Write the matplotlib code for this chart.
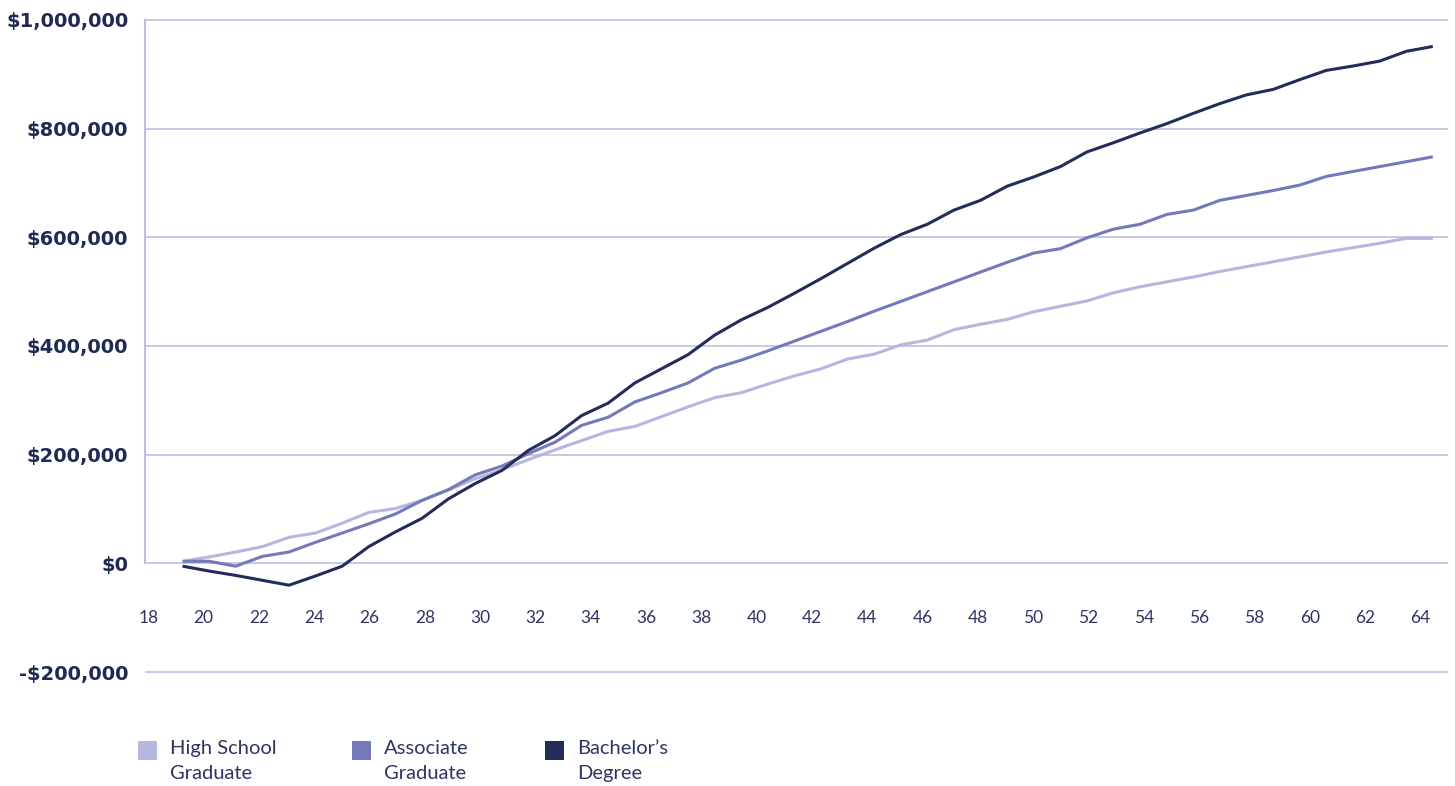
import numpy as np
import matplotlib
matplotlib.use("Agg")
import matplotlib.pyplot as plt
from matplotlib.patches import Rectangle
from matplotlib.ticker import FuncFormatter

# Cumulative net earnings by age (USD), sampled 48 times from age ~19.2 to ~64.5
age_start, age_end, n_points = 19.24, 64.45, 48

high_school = [
    4000, 12000, 21000, 31000, 48000, 56000, 74000, 94000, 101000, 116000,
    135000, 156000, 172000, 191000, 209000, 226000, 243000, 252000, 270000, 288000,
    305000, 314000, 330000, 345000, 358000, 376000, 385000, 402000, 411000, 430000,
    440000, 449000, 463000, 473000, 483000, 498000, 509000, 518000, 527000, 537000,
    546000, 555000, 564000, 573000, 581000, 589000, 598000, 598000,
]
associate = [
    4000, 4000, -5000, 13000, 21000, 39000, 56000, 73000, 91000, 116000,
    136000, 163000, 179000, 202000, 223000, 254000, 269000, 297000, 314000, 332000,
    359000, 374000, 391000, 409000, 427000, 445000, 464000, 482000, 500000, 518000,
    536000, 554000, 571000, 579000, 599000, 615000, 624000, 642000, 650000, 668000,
    677000, 686000, 696000, 712000, 721000, 730000, 739000, 748000,
]
bachelors = [
    -5000, -14000, -22000, -31000, -40000, -23000, -5000, 31000, 58000, 83000,
    119000, 147000, 171000, 208000, 235000, 272000, 295000, 332000, 358000, 384000,
    420000, 448000, 471000, 497000, 524000, 552000, 580000, 605000, 624000, 650000,
    668000, 694000, 711000, 730000, 757000, 774000, 792000, 809000, 828000, 846000,
    862000, 872000, 890000, 907000, 915000, 924000, 942000, 951000,
]

series_names = ["High School\nGraduate", "Associate\nGraduate", "Bachelor\u2019s\nDegree"]
series_colors = ["#b6b7de", "#7479b9", "#222d59"]
age_ticks = list(range(18, 65, 2))
y_ticks = [-200000, 0, 200000, 400000, 600000, 800000, 1000000]

grid_color = "#bdbee3"
label_color = "#1f2a55"
tick_color = "#2d3562"

W, H = 1455, 786
fig = plt.figure(figsize=(W / 100, H / 100), dpi=100)
ax = fig.add_axes([145 / W, (H - 673) / H, (1448 - 145) / W, (673 - 19) / H])

ages = np.linspace(age_start, age_end, n_points)
for vals, color in zip([high_school, associate, bachelors], series_colors):
    ax.plot(ages, vals, color=color, lw=2.2, solid_joinstyle="round",
            solid_capstyle="butt", zorder=3)

ax.set_xlim(17.88, 65.0)
ax.set_ylim(-201500, 1001500)

# horizontal grid
ax.set_yticks(y_ticks)
ax.yaxis.grid(True, color=grid_color, lw=1.2)
ax.set_axisbelow(True)

# y labels
def money(v, _pos):
    v = int(round(v))
    return f"-${abs(v):,}" if v < 0 else f"${v:,}"

ax.yaxis.set_major_formatter(FuncFormatter(money))
ax.tick_params(axis="y", length=0, pad=12, labelsize=14, labelcolor=label_color)
for lbl in ax.get_yticklabels():
    lbl.set_fontweight("bold")
    lbl.set_fontfamily("DejaVu Sans")

# x labels sit between the $0 and -$200,000 lines
ax.set_xticks(age_ticks)
ax.spines["bottom"].set_position(("data", -81000))
ax.spines["bottom"].set_visible(False)
ax.tick_params(axis="x", length=0, pad=2, labelsize=12.5, labelcolor=tick_color)
for lbl in ax.get_xticklabels():
    lbl.set_fontfamily("Lato")

for side in ["top", "right"]:
    ax.spines[side].set_visible(False)
ax.spines["left"].set_bounds(0, 1000000)
ax.spines["left"].set_color(grid_color)
ax.spines["left"].set_linewidth(1.5)

# legend
legend_x = [138, 352, 545]
for name, color, lx in zip(series_names, series_colors, legend_x):
    fig.add_artist(Rectangle((lx / W, (H - 760) / H), 19 / W, 19 / H,
                             transform=fig.transFigure, color=color, lw=0))
    fig.text((lx + 32) / W, (H - 761) / H, name, ha="left", va="center",
             fontsize=14.5, color=tick_color, family="Lato", linespacing=1.52)

fig.savefig("out.png", dpi=100)
